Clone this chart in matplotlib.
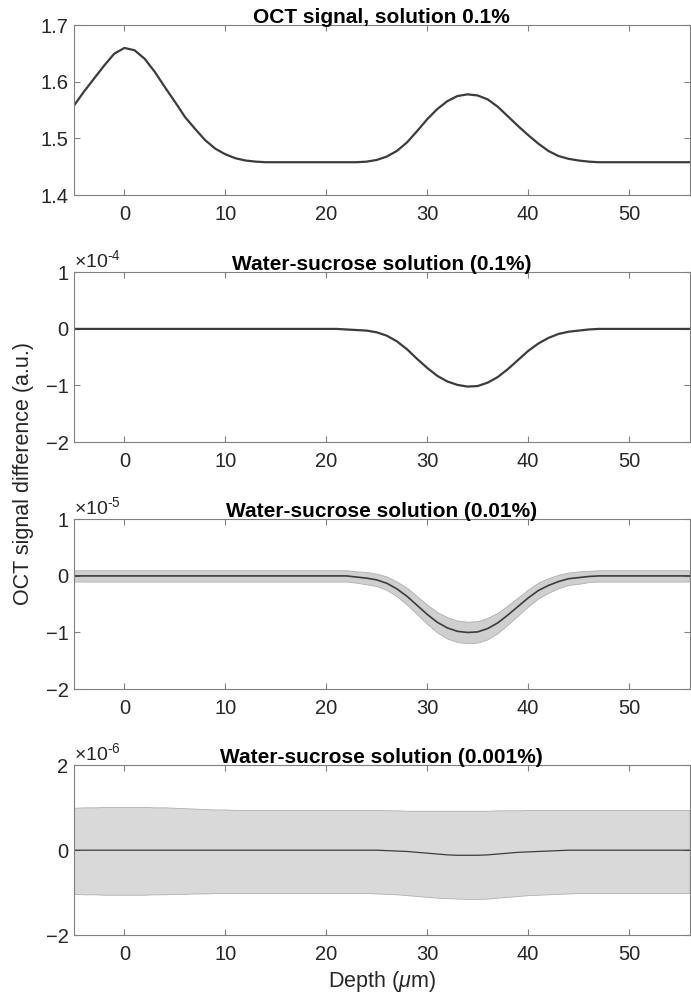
import matplotlib
matplotlib.use("Agg")
import matplotlib.pyplot as plt
import numpy as np

plt.rcParams['font.family'] = ['Liberation Sans', 'DejaVu Sans']
plt.rcParams['mathtext.fontset'] = 'custom'
plt.rcParams['mathtext.rm'] = 'Liberation Sans'
plt.rcParams['mathtext.it'] = 'Liberation Sans:italic'

# depth axis (um)
depth = list(range(-5, 57))

# panel 1: OCT signal, solution 0.1%
sig_01 = [1.558, 1.583, 1.606, 1.629, 1.650, 1.660, 1.656, 1.641, 1.618, 1.591,
          1.565, 1.538, 1.517, 1.497, 1.482, 1.472, 1.465, 1.461, 1.459] + \
         [1.458] * 10 + \
         [1.459, 1.462, 1.468, 1.478, 1.493, 1.513, 1.534, 1.552, 1.566, 1.575,
          1.578, 1.576, 1.569, 1.556, 1.539, 1.522, 1.506, 1.491, 1.478, 1.469,
          1.464, 1.461, 1.459] + \
         [1.458] * 10

# panel 2: difference, 0.1% (x1e-4)
diff_01 = [0.0] * 27 + \
          [-0.01, -0.02, -0.03, -0.06, -0.12, -0.22, -0.36, -0.53, -0.69, -0.83,
           -0.93, -0.99, -1.02, -1.01, -0.95, -0.85, -0.71, -0.55, -0.39, -0.26,
           -0.16, -0.09, -0.05, -0.03, -0.01] + \
          [0.0] * 10

# panel 3: difference, 0.01% (x1e-5), mean and spread
diff_001 = [0.0] * 27 + \
           [0.0, -0.02, -0.04, -0.07, -0.13, -0.23, -0.36, -0.52, -0.68, -0.82,
            -0.92, -0.98, -1.00, -0.99, -0.93, -0.83, -0.69, -0.54, -0.39, -0.26,
            -0.17, -0.10, -0.05, -0.03, -0.01] + \
           [0.0] * 10
sd_001 = [0.10] * 27 + \
         [0.10, 0.10, 0.11, 0.11, 0.12, 0.13, 0.15, 0.16, 0.17, 0.18,
          0.19, 0.19, 0.19, 0.19, 0.19, 0.18, 0.17, 0.16, 0.15, 0.14,
          0.13, 0.12, 0.11, 0.11, 0.10] + \
         [0.10] * 10

# panel 4: difference, 0.001% (x1e-6), mean and band edges
diff_0001 = [0.0] * 31 + \
            [-0.01, -0.02, -0.03, -0.05, -0.07, -0.09, -0.11, -0.12, -0.12, -0.12,
             -0.11, -0.09, -0.07, -0.05, -0.04, -0.03, -0.02, -0.01] + \
            [0.0] * 13
upper_0001 = [1.00, 1.01, 1.01, 1.02, 1.02, 1.02, 1.02, 1.02, 1.01, 1.01,
              1.00, 0.99, 0.98, 0.97, 0.96, 0.96] + \
             [0.95] * 15 + \
             [0.94, 0.94, 0.93, 0.93, 0.93, 0.93, 0.93, 0.93, 0.93, 0.93,
              0.93, 0.94, 0.94, 0.94, 0.95] + \
             [0.95] * 16
lower_0001 = [-1.03, -1.04, -1.04, -1.05, -1.05, -1.05, -1.05, -1.05, -1.04, -1.04,
              -1.03, -1.03, -1.02, -1.02, -1.01, -1.01] + \
             [-1.01] * 14 + \
             [-1.02, -1.03, -1.04, -1.06, -1.08, -1.10, -1.12, -1.13, -1.14, -1.15,
              -1.15, -1.14, -1.12, -1.10, -1.08, -1.06, -1.05, -1.04, -1.03, -1.02] + \
             [-1.01] * 12

titles = ["OCT signal, solution 0.1%",
          "Water-sucrose solution (0.1%)",
          "Water-sucrose solution (0.01%)",
          "Water-sucrose solution (0.001%)"]

x = np.array(depth)
fig = plt.figure(figsize=(6.91, 9.98), dpi=100)
bottoms = [0.8046, 0.5571, 0.3096, 0.0631]
axes = [fig.add_axes([0.107, b, 0.891, 0.170]) for b in bottoms]

line_col = '#3c3c3c'
band_col = '#d9d9d9'

ax = axes[0]
ax.plot(x, sig_01, color=line_col, lw=1.6)
ax.set_ylim(1.4, 1.7)
ax.set_yticks([1.4, 1.5, 1.6, 1.7])

ax = axes[1]
ax.plot(x, diff_01, color=line_col, lw=1.6)
ax.set_ylim(-2, 1)
ax.set_yticks([-2, -1, 0, 1])

ax = axes[2]
m3 = np.array(diff_001)
s3 = np.array(sd_001)
ax.fill_between(x, m3 - s3, m3 + s3, color='#cfcfcf', lw=0.6, edgecolor='#b0b0b0')
ax.plot(x, m3, color=line_col, lw=1.2)
ax.set_ylim(-2, 1)
ax.set_yticks([-2, -1, 0, 1])

ax = axes[3]
ax.fill_between(x, lower_0001, upper_0001, color=band_col, lw=0.6, edgecolor='#b0b0b0')
ax.plot(x, diff_0001, color=line_col, lw=0.9)
ax.set_ylim(-2, 2)
ax.set_yticks([-2, 0, 2])

exps = [None, '4', '5', '6']
for ax, t, e in zip(axes, titles, exps):
    ax.set_xlim(-5, 56)
    ax.set_xticks([0, 10, 20, 30, 40, 50])
    ax.set_title(t, fontsize=15, fontweight='bold', color='black', pad=2)
    ax.tick_params(direction='in', length=4, width=0.8, top=True, right=True,
                   labelsize=14.5, colors='#808080', labelcolor='#262626')
    ax.tick_params(axis='x', pad=7)
    ax.tick_params(axis='y', pad=4)
    for sp in ax.spines.values():
        sp.set_color('#808080')
        sp.set_linewidth(0.8)
    if e is not None:
        ax.text(0.0, 1.005, r'$\times10^{\text{-}%s}$' % e, transform=ax.transAxes,
                fontsize=14, color='#262626', ha='left', va='bottom')

axes[3].set_xlabel(r'Depth ($\mu$m)', fontsize=15.5, color='#262626', labelpad=4)
fig.text(0.034, 0.526, 'OCT signal difference (a.u.)', rotation=90,
         fontsize=15.5, color='#262626', ha='center', va='center')

fig.savefig('out.png', dpi=100)
